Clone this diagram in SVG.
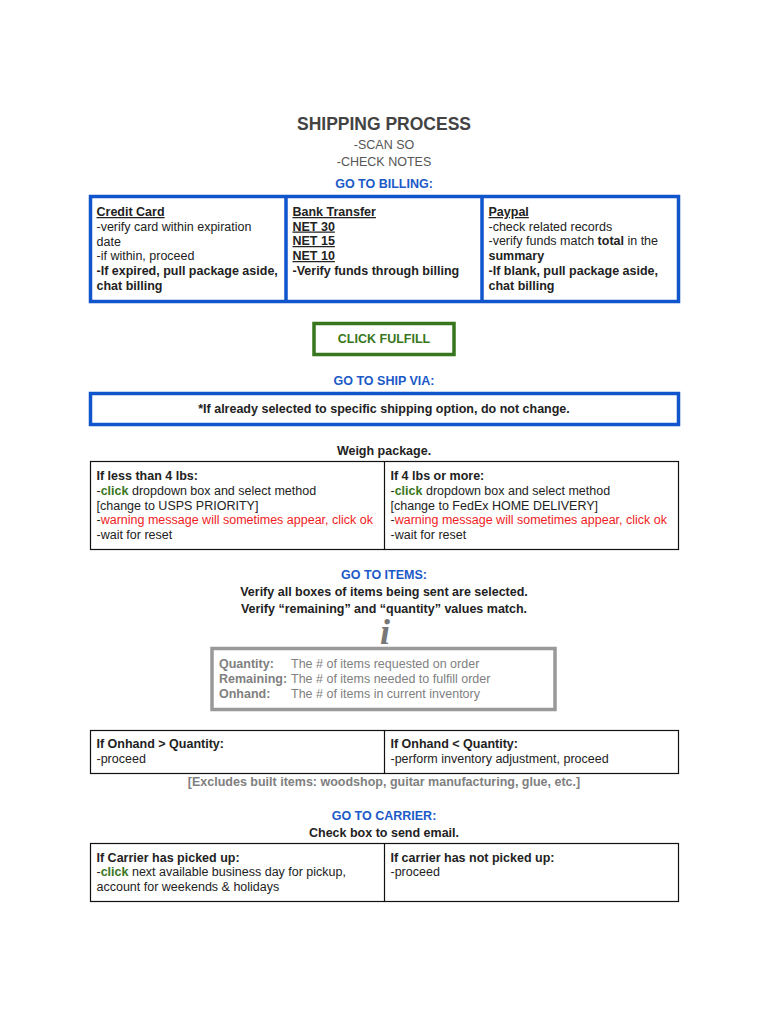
<svg xmlns="http://www.w3.org/2000/svg" width="768" height="1024" viewBox="0 0 768 1024">
<style>
text{font-family:"Liberation Sans",Arial,sans-serif;font-size:12.5px;fill:#222}
.b{font-weight:bold}
.c{text-anchor:middle}
.u{text-decoration:underline}
.h{font-weight:bold;fill:#1b5ac8;text-anchor:middle}
.g{font-weight:bold;fill:#38761d}
.r{fill:#f01c24}
.lg{fill:#808080}
.s{fill:#555}
.blue{fill:none;stroke:#1155cc;stroke-width:3.5}
.blk{fill:none;stroke:#111;stroke-width:1.2}
</style>
<rect width="768" height="1024" fill="#fff"/>
<g id="header">
<text x="384" y="130" class="c b" style="font-size:17.5px;fill:#434343">SHIPPING PROCESS</text>
<text x="384" y="148.500" class="c s">-SCAN SO</text>
<text x="384" y="166" class="c s">-CHECK NOTES</text>
<text x="384" y="188" class="h">GO TO BILLING:</text>
</g>
<g id="billing">
<rect x="90.500" y="196.500" width="588" height="105" class="blue"/>
<line x1="286" y1="196" x2="286" y2="302" class="blue"/>
<line x1="482" y1="196" x2="482" y2="302" class="blue"/>
<text x="96.500" y="216" class="b u">Credit Card</text>
<text x="96.500" y="230.500">-verify card within expiration</text>
<text x="96.500" y="245.500">date</text>
<text x="96.500" y="260">-if within, proceed</text>
<text x="96.500" y="275" class="b">-If expired, pull package aside,</text>
<text x="96.500" y="289.500" class="b">chat billing</text>
<text x="292.500" y="216" class="b u">Bank Transfer</text>
<text x="292.500" y="230.500" class="b u">NET 30</text>
<text x="292.500" y="245" class="b u">NET 15</text>
<text x="292.500" y="260" class="b u">NET 10</text>
<text x="292.500" y="275" class="b">-Verify funds through billing</text>
<text x="488.500" y="216" class="b u">Paypal</text>
<text x="488.500" y="230.500">-check related records</text>
<text x="488.500" y="245">-verify funds match <tspan class="b">total</tspan> in the</text>
<text x="488.500" y="260" class="b">summary</text>
<text x="488.500" y="275" class="b">-If blank, pull package aside,</text>
<text x="488.500" y="289.500" class="b">chat billing</text>
</g>
<g id="fulfill">
<rect x="314" y="323.500" width="140" height="31" fill="#fff" stroke="#38761d" stroke-width="3.500"/>
<text x="384" y="343" class="c g">CLICK FULFILL</text>
</g>
<g id="shipvia">
<text x="384" y="385" class="h">GO TO SHIP VIA:</text>
<rect x="90.500" y="393.500" width="588" height="31" class="blue"/>
<text x="384" y="412.500" class="c b">*If already selected to specific shipping option, do not change.</text>
</g>
<g id="weigh">
<text x="384" y="455" class="c b">Weigh package.</text>
<rect x="90.500" y="461.500" width="588" height="88" class="blk"/>
<line x1="384.500" y1="461" x2="384.500" y2="550" class="blk"/>
<text x="96.500" y="479.500" class="b">If less than 4 lbs:</text>
<text x="96.500" y="494.500">-<tspan class="g">click</tspan> dropdown box and select method</text>
<text x="96.500" y="509.500">[change to USPS PRIORITY]</text>
<text x="96.500" y="524">-<tspan class="r">warning message will sometimes appear, click ok</tspan></text>
<text x="96.500" y="538.500">-wait for reset</text>
<text x="390.500" y="479.500" class="b">If 4 lbs or more:</text>
<text x="390.500" y="494.500">-<tspan class="g">click</tspan> dropdown box and select method</text>
<text x="390.500" y="509.500">[change to FedEx HOME DELIVERY]</text>
<text x="390.500" y="524">-<tspan class="r">warning message will sometimes appear, click ok</tspan></text>
<text x="390.500" y="538.500">-wait for reset</text>
</g>
<g id="items">
<text x="384" y="579" class="h">GO TO ITEMS:</text>
<text x="384" y="596" class="c b">Verify all boxes of items being sent are selected.</text>
<text x="384" y="613" class="c b">Verify “remaining” and “quantity” values match.</text>
</g>
<g id="info">
<text x="385" y="644" class="c" style="font-family:'Liberation Serif',serif;font-size:36px;font-weight:bold;font-style:italic;fill:#777">i</text>
<rect x="212" y="648.500" width="343" height="61" fill="#fff" stroke="#999" stroke-width="3.500"/>
<text x="219" y="668" class="b lg">Quantity:</text>
<text x="291" y="668" class="lg">The # of items requested on order</text>
<text x="219" y="682.500" class="b lg">Remaining:</text>
<text x="291" y="682.500" class="lg">The # of items needed to fulfill order</text>
<text x="219" y="698" class="b lg">Onhand:</text>
<text x="291" y="698" class="lg">The # of items in current inventory</text>
</g>
<g id="onhand">
<rect x="90.500" y="730.500" width="588" height="43" class="blk"/>
<line x1="384.500" y1="730" x2="384.500" y2="774" class="blk"/>
<text x="96.500" y="748" class="b">If Onhand &gt; Quantity:</text>
<text x="96.500" y="763">-proceed</text>
<text x="390.500" y="748" class="b">If Onhand &lt; Quantity:</text>
<text x="390.500" y="763">-perform inventory adjustment, proceed</text>
<text x="384" y="786" class="c b lg">[Excludes built items: woodshop, guitar manufacturing, glue, etc.]</text>
</g>
<g id="carrier">
<text x="384" y="820" class="h">GO TO CARRIER:</text>
<text x="384" y="837" class="c b">Check box to send email.</text>
<rect x="90.500" y="843.500" width="588" height="58" class="blk"/>
<line x1="384.500" y1="843" x2="384.500" y2="902" class="blk"/>
<text x="96.500" y="861.500" class="b">If Carrier has picked up:</text>
<text x="96.500" y="876">-<tspan class="g">click</tspan> next available business day for pickup,</text>
<text x="96.500" y="891">account for weekends &amp; holidays</text>
<text x="390.500" y="861.500" class="b">If carrier has not picked up:</text>
<text x="390.500" y="876">-proceed</text>
</g>
<g id="connectors"></g>
</svg>
